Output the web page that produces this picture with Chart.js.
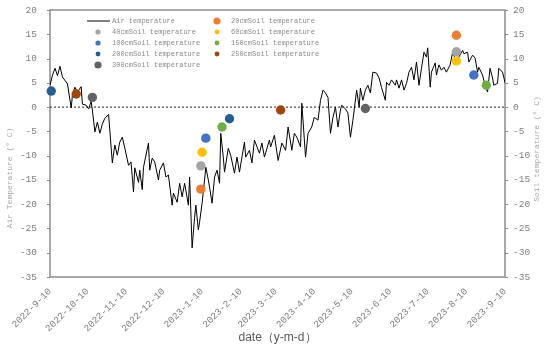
<!DOCTYPE html>
<html>
<head>
<meta charset="utf-8">
<script src="https://cdn.jsdelivr.net/npm/chart.js@4"></script>
<style>
  html, body { margin: 0; padding: 0; background: #fff; }
  #wrap { width: 550px; height: 354px; }
</style>
</head>
<body>
<div id="wrap"><canvas id="chart"></canvas></div>
<script>
// ===== DATA =====
// x = days since 2022-9-10
const tickLabels = ["2022-9-10", "2022-10-10", "2022-11-10", "2022-12-10", "2023-1-10", "2023-2-10",
  "2023-3-10", "2023-4-10", "2023-5-10", "2023-6-10", "2023-7-10", "2023-8-10", "2023-9-10"];

const airDays = [
  0, 2, 4, 6, 8, 10, 14, 17, 18, 20,
  22, 25, 26, 29, 31, 33, 34, 36, 38, 40,
  42, 44, 47, 50, 52, 54, 56, 58, 60, 63,
  65, 67, 68, 71, 72, 74, 75, 79, 80, 82,
  84, 87, 88, 91, 93, 95, 98, 99, 102, 104,
  106, 108, 111, 112, 114, 116, 117, 119, 120, 122,
  124, 125, 127, 128, 130, 132, 134, 136, 137, 139,
  140, 143, 145, 148, 150, 152, 156, 157, 160, 162,
  164, 168, 170, 172, 176, 177, 180, 183, 186, 189,
  191, 194, 196, 198, 201, 202, 205, 207, 210, 212,
  215, 217, 219, 221, 223, 225, 227, 229, 231, 233,
  234, 237, 239, 241, 243, 246, 248, 249, 251, 253,
  255, 257, 259, 262, 264, 266, 269, 270, 272, 274,
  277, 278, 280, 282, 284, 286, 288, 290, 292, 294,
  296, 298, 300, 302, 303, 305, 306, 309, 310, 312,
  314, 316, 318, 321, 323, 326, 328, 331, 332, 335,
  336, 339, 341, 343, 344, 347, 349, 351, 352, 353,
  355, 356, 359, 360, 363, 364, 365
];
const airTemp = [
  4.5, 6.6, 8, 6.5, 8.4, 6.2, 4.8, -0.2, 2.5, 4.1,
  3.1, 4.2, 0.6, 0.4, -0.4, 1.2, -0.6, -5.1, -3.1, -5.4,
  -3.5, -2.3, -1.5, -11.5, -7.8, -9.9, -7.2, -6.2, -8.4, -12,
  -11.3, -17.5, -12.5, -15.5, -13, -17, -12.4, -7.4, -13, -10.5,
  -11.3, -15, -13, -11.5, -14.4, -14, -20.2, -17.7, -19.6, -15.7,
  -18.5, -15.7, -20.2, -14.4, -29, -22.7, -20.2, -25.3, -23.7, -19.8,
  -15, -12.4, -15, -16.5, -19.8, -14.4, -13, -15.7, -5.4, -10.3,
  -13.4, -8.5, -10, -13.6, -10.3, -13.4, -7.2, -10.3, -8.9, -11.5,
  -6.8, -9.5, -7.4, -10.3, -6.8, -8.2, -5.8, -11, -7.4, -8.9,
  -4.1, -8.9, -5.4, -6.2, -8.2, 0.8, -10.3, -5.4, -4.1, -2.1,
  -2.7, 1.4, 3.5, 2.9, 2, -5.4, -2.1, 0, -4.1, -0.6,
  0.4, -0.4, -1.2, -6.2, -2.7, 3.5, 0, 3.9, 1.4, 3.5,
  4.5, 2.9, 7.2, 7, 6, 4, 1.4, 5.1, 4.5, 5.6,
  4.5, 5.6, 3.9, 5.6, 3.5, 4.9, 7.2, 8.2, 5.6, 9.3,
  4.5, 8, 11.3, 10.3, 12.2, 4.1, 7.2, 9.1, 6.6, 8.7,
  7.6, 8.2, 7.2, 8.7, 11.3, 9.3, 10.3, 11.7, 11, 11.3,
  9.3, 10.7, 10.1, 7.2, 8.2, 6.6, 4.5, 3.1, 5.6, 8,
  6, 4.5, 4.9, 8, 7.2, 6.2, 5
];

const soilDepths = ["20cm", "40cm", "60cm", "100cm", "150cm", "200cm", "250cm", "300cm"];
const soilDays = [[121, 326], [121, 326], [122, 326], [125, 340], [138, 350], [1, 144], [21, 185], [34, 253]];
const soilTemp = [[-16.9, 14.8], [-12.1, 11.4], [-9.3, 9.5], [-6.4, 6.6], [-4.1, 4.5], [3.3, -2.4], [2.7, -0.6], [2.0, -0.3]];

// ===== STYLE =====
const soilColors = ["#ED7D31", "#A5A5A5", "#FFC000", "#4472C4", "#70AD47", "#255E91", "#9E480E", "#636363"];
const legendRadius = [3.6, 2.6, 2.4, 2.6, 2.4, 2.4, 2.4, 3.6];
const MONO = '"Liberation Mono", "DejaVu Sans Mono", monospace';
const AXIS = "#8c8c8c";

const day0 = new Date(2022, 8, 10);
const tickDays = tickLabels.map(t => {
  const [y, m, d] = t.split("-").map(Number);
  return Math.round((new Date(y, m - 1, d) - day0) / 86400000);
});

// ===== DATASETS =====
const datasets = soilDepths.map((dep, i) => ({
  label: dep + "Soil temperature",
  data: soilDays[i].map((d, j) => ({ x: d, y: soilTemp[i][j] })),
  backgroundColor: soilColors[i],
  borderColor: soilColors[i],
  pointRadius: 4.7,
  pointBorderWidth: 0,
  yAxisID: "y2",
  clip: false,
  order: 0
}));

datasets.push({
  label: "Air temperature",
  data: airDays.map((d, i) => ({ x: d, y: airTemp[i] })),
  showLine: true,
  borderColor: "#000",
  borderWidth: 1,
  pointRadius: 0,
  tension: 0,
  yAxisID: "y",
  order: 1
});

datasets.push({
  label: "zero",
  data: [{ x: tickDays[0], y: 0 }, { x: tickDays[tickDays.length - 1], y: 0 }],
  showLine: true,
  borderColor: "#222",
  borderWidth: 1,
  borderDash: [2, 2],
  pointRadius: 0,
  yAxisID: "y",
  order: 2
});

// ===== PLUGIN: frame, tick marks, legend, y titles =====
const decor = {
  id: "decor",
  beforeDatasetsDraw(chart) {
    const { ctx, chartArea: a, scales } = chart;
    ctx.save();
    ctx.strokeStyle = AXIS;
    ctx.lineWidth = 1.5;
    ctx.strokeRect(a.left, a.top, a.right - a.left, a.bottom - a.top);
    // short outward tick marks on both y axes
    ctx.lineWidth = 1;
    ctx.beginPath();
    scales.y.ticks.forEach(t => {
      const py = Math.round(scales.y.getPixelForValue(t.value)) + 0.5;
      ctx.moveTo(a.left - 3, py); ctx.lineTo(a.left, py);
      ctx.moveTo(a.right, py); ctx.lineTo(a.right + 3, py);
    });
    ctx.stroke();
    ctx.restore();
  },
  afterDraw(chart) {
    const { ctx } = chart;
    ctx.save();

    // legend
    const rows = [21, 32, 43, 54, 65];
    const items = ["Air temperature"].concat(soilDepths.map(d => d + "Soil temperature"));
    ctx.font = "7px " + MONO;
    ctx.textBaseline = "middle";
    items.forEach((txt, i) => {
      const col = i % 2, y = rows[Math.floor(i / 2)];
      const mx = col ? 217 : 98, tx = col ? 231 : 112;
      if (i === 0) {
        ctx.strokeStyle = "#000";
        ctx.lineWidth = 1;
        ctx.beginPath(); ctx.moveTo(87, y); ctx.lineTo(110, y); ctx.stroke();
      } else {
        ctx.fillStyle = soilColors[i - 1];
        ctx.beginPath(); ctx.arc(mx, y, legendRadius[i - 1], 0, Math.PI * 2); ctx.fill();
      }
      ctx.fillStyle = "#8a8a8a";
      ctx.fillText(txt, tx, y);
    });

    // y axis titles, both read bottom to top
    ctx.font = "8px " + MONO;
    ctx.fillStyle = "#a6a6a6";
    ctx.textAlign = "center";
    [[10, 178, "Air Temperature (° C)"], [537, 149, "Soil temperature (° C)"]].forEach(([x, y, t]) => {
      ctx.save();
      ctx.translate(x, y);
      ctx.rotate(-Math.PI / 2);
      ctx.fillText(t, 0, 0);
      ctx.restore();
    });
    ctx.restore();
  }
};

const yTicks = { stepSize: 5, padding: 2, font: { family: MONO, size: 9.5 }, color: "#7f7f7f" };

new Chart(document.getElementById("chart"), {
  type: "scatter",
  data: { datasets },
  options: {
    responsive: true,
    maintainAspectRatio: false,
    animation: false,
    devicePixelRatio: 1,
    layout: { padding: { top: 10, bottom: 0, left: 0, right: 0 } },
    plugins: { legend: { display: false }, tooltip: { enabled: false } },
    scales: {
      x: {
        type: "linear",
        min: tickDays[0],
        max: tickDays[tickDays.length - 1],
        afterBuildTicks: s => { s.ticks = tickDays.map(v => ({ value: v })); },
        afterFit: s => { s.height = 77; },
        grid: { display: false },
        border: { display: false },
        ticks: {
          autoSkip: false, maxRotation: 45, minRotation: 45, padding: 1,
          font: { family: MONO, size: 9.5 }, color: "#7f7f7f",
          callback: v => tickLabels[tickDays.indexOf(v)]
        },
        title: {
          display: true, text: "date（y-m-d）", color: "#595959",
          font: { family: '"Liberation Sans", Arial, sans-serif', size: 12 },
          padding: { top: 0, bottom: 9 }
        }
      },
      y: {
        position: "left", min: -35, max: 20,
        afterFit: s => { s.width = 50; },
        grid: { drawOnChartArea: false, tickLength: 11, tickColor: "rgba(0,0,0,0)", color: "rgba(0,0,0,0)" },
        border: { display: false },
        ticks: yTicks
      },
      y2: {
        position: "right", min: -35, max: 20,
        afterFit: s => { s.width = 45; },
        grid: { drawOnChartArea: false, tickLength: 6, tickColor: "rgba(0,0,0,0)", color: "rgba(0,0,0,0)" },
        border: { display: false },
        ticks: yTicks
      }
    }
  },
  plugins: [decor]
});
</script>
</body>
</html>
